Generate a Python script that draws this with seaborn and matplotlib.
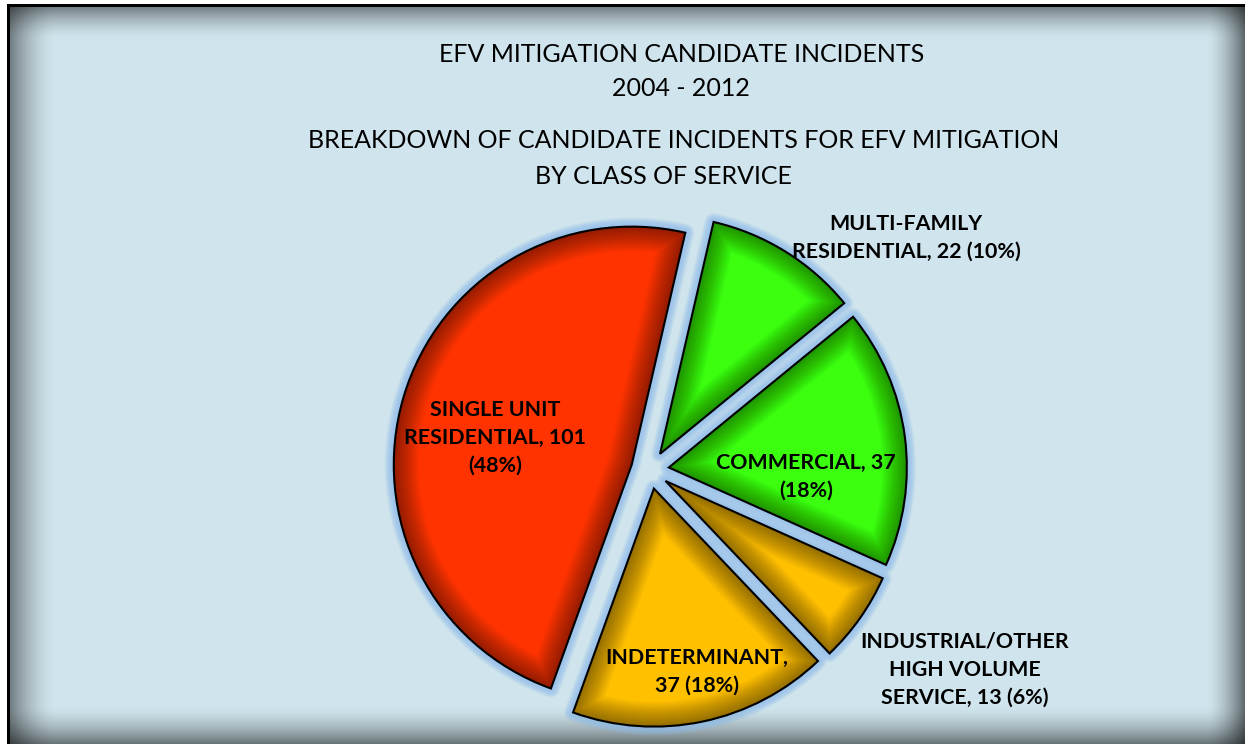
import numpy as np
import matplotlib
matplotlib.use("Agg")
import matplotlib.pyplot as plt
from matplotlib.patches import Wedge
import seaborn as sns

# ---------------- data ----------------
categories = ["MULTI-FAMILY RESIDENTIAL", "COMMERCIAL",
              "INDUSTRIAL/OTHER HIGH VOLUME SERVICE", "INDETERMINANT",
              "SINGLE UNIT RESIDENTIAL"]
counts = [22, 37, 13, 37, 101]
percents = [10, 18, 6, 18, 48]
slice_colors = ["#3BFF0F", "#3BFF0F", "#FFC000", "#FFC000", "#FF3300"]
title_lines = ["EFV MITIGATION CANDIDATE INCIDENTS", "2004 - 2012",
               "BREAKDOWN OF CANDIDATE INCIDENTS FOR EFV MITIGATION",
               "BY CLASS OF SERVICE"]

labels = [
    f"MULTI-FAMILY\nRESIDENTIAL, {counts[0]} ({percents[0]}%)",
    f"COMMERCIAL, {counts[1]}\n({percents[1]}%)",
    f"INDUSTRIAL/OTHER\nHIGH VOLUME\nSERVICE, {counts[2]} ({percents[2]}%)",
    f"INDETERMINANT,\n{counts[3]} ({percents[3]}%)",
    f"SINGLE UNIT\nRESIDENTIAL, {counts[4]}\n({percents[4]}%)",
]

# ---------------- layout ----------------
W, H = 1245, 744
sns.set_theme(style="white")
plt.rcParams["font.family"] = ["Lato", "DejaVu Sans"]

fig = plt.figure(figsize=(W / 100, H / 100), dpi=100)

# background panel with inner shadow and black frame
bg = fig.add_axes([0, 0, 1, 1])
bg.set_axis_off()
yy, xx = np.mgrid[0:H, 0:W].astype(float) + 0.5
base = np.array([0xCF, 0xE4, 0xEC]) / 255.0


def ramp(d, width, strength):
    t = np.clip(1 - d / width, 0, 1)
    return strength * t ** 1.6


s_top = ramp(yy - 7, 32, 0.45)
s_left = ramp(xx - 10, 45, 0.45)
s_bot = ramp(H - yy, 38, 0.5)
s_right = ramp(W - xx, 38, 0.55)
shade = 1 - (1 - s_top) * (1 - s_left) * (1 - s_bot) * (1 - s_right)
img = base[None, None, :] * (1 - shade[..., None])
img[4:7, 7:, :] = 0
img[4:, 7:10, :] = 0
img[:4, :, :] = 1
img[:, :7, :] = 1
bg.imshow(img, extent=(0, W, H, 0), interpolation="nearest", aspect="auto")
bg.set_xlim(0, W)
bg.set_ylim(H, 0)

# pie
ax = fig.add_axes([0, 0, 1, 1])
ax.patch.set_alpha(0)
R = 238
cx, cy = 650, H - 470
palette = sns.color_palette(slice_colors)
wedges, _ = ax.pie(counts, colors=palette, startangle=77, counterclock=False,
                   radius=R, center=(cx, cy), explode=[19] * len(counts),
                   wedgeprops=dict(edgecolor="none", linewidth=0, zorder=3))
ax.set_xlim(0, W)
ax.set_ylim(0, H)
ax.set_aspect("equal")
ax.set_axis_off()

for w in wedges:
    c, r, t1, t2 = w.center, w.r, w.theta1, w.theta2
    # outer glow
    for lw in np.arange(13, 2, -1.0):
        ax.add_patch(Wedge(c, r, t1, t2, facecolor="none", edgecolor="#8FBDEA",
                           lw=lw, alpha=0.12, zorder=1, joinstyle="round"))
    # inner shadow (smooth gradient towards the edge)
    for lw in np.arange(36, 1, -1.5):
        p = Wedge(c, r, t1, t2, facecolor="none", edgecolor="black",
                  lw=lw, alpha=0.018, zorder=4, joinstyle="miter")
        ax.add_patch(p)
        p.set_clip_path(w)
    ax.add_patch(Wedge(c, r, t1, t2, fill=False, edgecolor="black", lw=1.5,
                       zorder=5, joinstyle="miter"))

# slice labels
label_pos = [(906, 238), (806, 477), (965, 670), (697, 672), (495, 438)]
for txt, (lx, ly) in zip(labels, label_pos):
    ax.text(lx, H - ly, txt, ha="center", va="center", fontsize=15.4,
            fontweight="bold", color="black", linespacing=1.5, zorder=6)

# titles
title_pos = [(682, 55), (681, 89), (684, 140), (663, 176)]
for txt, (tx, ty) in zip(title_lines, title_pos):
    ax.text(tx, H - ty, txt, ha="center", va="center", fontsize=18,
            color="black", zorder=6)

fig.savefig("out.png", dpi=100)
